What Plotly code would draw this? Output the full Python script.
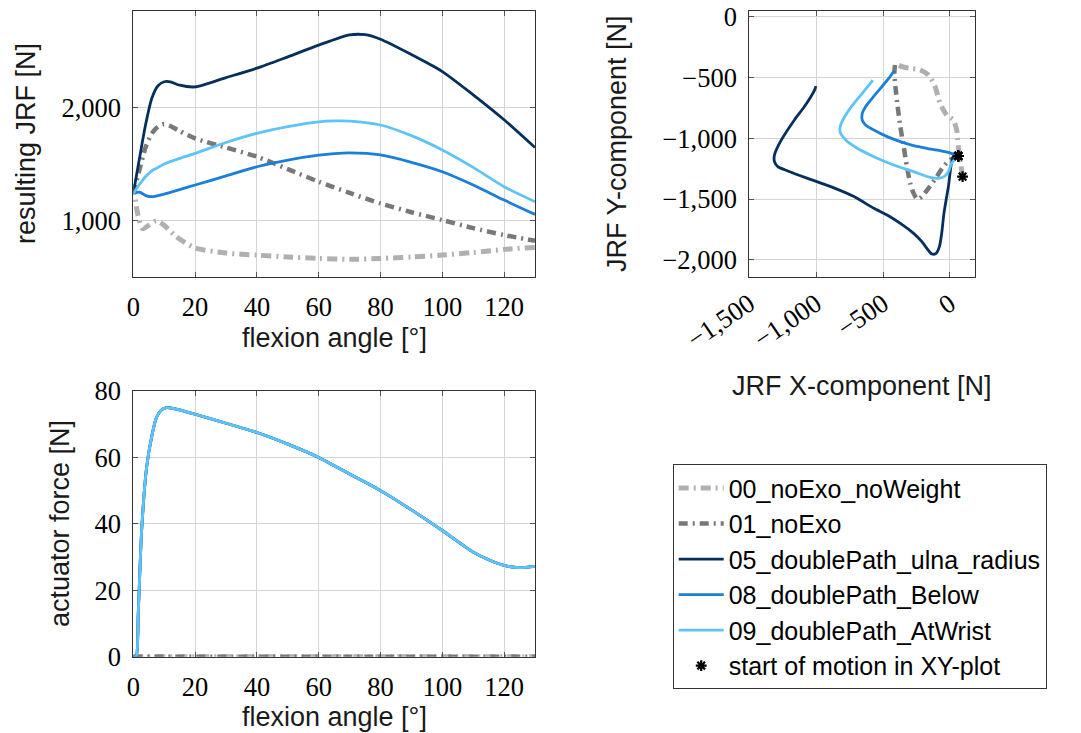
import plotly.graph_objects as go

# ---- data ----
# resulting JRF vs flexion angle (top left)
angle_05 = [0, 2, 4, 6, 8, 10, 12, 15, 20, 30, 40, 50, 60, 70, 75, 80, 90, 100, 110, 120, 130]
jrf_05 = [1240, 1550, 1850, 2080, 2190, 2225, 2225, 2195, 2180, 2262, 2345, 2445, 2548, 2638, 2640, 2600, 2465, 2315, 2110, 1890, 1645]

angle_blue = [0, 2, 4, 6, 8, 10, 15, 20, 30, 40, 50, 60, 65, 70, 80, 90, 100, 110, 120, 130]
jrf_08 = [1240, 1252, 1222, 1212, 1222, 1235, 1275, 1315, 1395, 1476, 1535, 1578, 1592, 1598, 1580, 1515, 1432, 1315, 1182, 1056]
jrf_09 = [1240, 1320, 1390, 1440, 1470, 1500, 1550, 1594, 1690, 1771, 1830, 1872, 1880, 1878, 1844, 1750, 1624, 1470, 1300, 1168]

angle_01 = [0, 2, 4, 6, 8, 10, 12, 15, 20, 30, 40, 50, 60, 70, 80, 90, 100, 110, 120, 130]
jrf_01 = [1240, 1450, 1650, 1770, 1830, 1853, 1835, 1790, 1726, 1645, 1565, 1455, 1344, 1245, 1153, 1075, 1006, 935, 874, 824]

angle_00 = [0, 1.5, 3, 5, 7.5, 10, 13, 16, 20, 30, 40, 50, 60, 70, 80, 90, 100, 110, 120, 130]
jrf_00 = [1320, 1050, 930, 960, 1000, 960, 880, 820, 760, 715, 697, 680, 668, 660, 668, 680, 697, 720, 747, 765]

# JRF X/Y components (top right)
xy_05_x = [62, 25, -12, -45, -62, -79, -104, -136, -173, -210, -272, -371, -470, -569, -718, -891, -1064,
           -1213, -1287, -1312, -1312, -1287, -1238, -1163, -1089, -1040, -1010, -1002]
xy_05_y = [-1145, -1151, -1397, -1616, -1781, -1890, -1945, -1951, -1904, -1849, -1781, -1699, -1630, -1575,
           -1479, -1397, -1329, -1268, -1233, -1192, -1137, -1068, -973, -849, -740, -658, -597, -570]

xy_08_x = [62, 0, -74, -173, -272, -371, -470, -569, -631, -656, -656, -631, -582, -520, -458, -416]
xy_08_y = [-1145, -1120, -1101, -1082, -1060, -1027, -986, -932, -890, -849, -795, -740, -671, -589, -507, -444]

xy_09_x = [62, 12, -12, -45, -87, -148, -272, -421, -569, -693, -779, -822, -817, -780, -718, -656, -606, -577]
xy_09_y = [-1145, -1205, -1274, -1315, -1329, -1321, -1274, -1219, -1151, -1082, -1014, -945, -890, -808,
           -712, -630, -562, -521]

xy_01_x = [62, 0, -50, -99, -161, -210, -243, -272, -297, -322, -346, -371, -391, -408, -416, -411]
xy_01_y = [-1145, -1178, -1233, -1315, -1411, -1479, -1501, -1452, -1370, -1233, -1068, -904, -740, -575, -466, -397]

xy_00_x = [94, 79, 62, 50, 25, -25, -74, -111, -161, -223, -297, -359, -408]
xy_00_y = [-1315, -1205, -1068, -932, -849, -808, -712, -575, -479, -438, -425, -411, -384]

# actuator force vs flexion angle (bottom left)
act_angle = [0, 0.9, 1.6, 2.7, 4.3, 5.9, 7.5, 9, 10.8, 12.9, 15, 20, 30, 40, 50, 60, 70, 80, 90, 100, 110,
             115, 120, 125, 130]
act_force = [0, 0, 13, 38, 57, 66, 72, 74.2, 75, 74.8, 74.3, 73, 70.3, 67.5, 64, 60, 55, 50, 44.2, 38, 31.5,
             29.2, 27.5, 26.8, 27.2]
noexo_angle = [0, 130]
noexo_force = [0, 0]

names = ["00_noExo_noWeight", "01_noExo", "05_doublePath_ulna_radius", "08_doublePath_Below", "09_doublePath_AtWrist"]
colors = ["#b0b0b0", "#787878", "#062f5c", "#1a7fd9", "#5ec4f8"]
widths = [5, 4.5, 2.8, 2.8, 2.8]
dashes = ["10px,5px,2px,5px", "9px,5px,2px,5px", "solid", "solid", "solid"]

W, H = 1081, 733
SANS = "Liberation Sans"
SERIF = "Liberation Serif"


def px_dom(a, b, total):
    return [a / total, b / total]


def py_dom(top, bottom):
    return [1 - bottom / H, 1 - top / H]


fig = go.Figure()

top_left = [(angle_00, jrf_00), (angle_01, jrf_01), (angle_05, jrf_05), (angle_blue, jrf_08), (angle_blue, jrf_09)]
xy = [(xy_00_x, xy_00_y), (xy_01_x, xy_01_y), (xy_05_x, xy_05_y), (xy_08_x, xy_08_y), (xy_09_x, xy_09_y)]
bottom = [(noexo_angle, noexo_force), (noexo_angle, noexo_force), (act_angle, act_force),
          (act_angle, act_force), (act_angle, act_force)]

for i in range(5):
    line = dict(color=colors[i], width=widths[i], dash=dashes[i], shape="spline", smoothing=0.7)
    fig.add_trace(go.Scatter(x=top_left[i][0], y=top_left[i][1], mode="lines", line=line,
                             showlegend=False, xaxis="x", yaxis="y"))
    fig.add_trace(go.Scatter(x=xy[i][0], y=xy[i][1], mode="lines", line=line, name=names[i],
                             showlegend=True, xaxis="x2", yaxis="y2"))
    fig.add_trace(go.Scatter(x=bottom[i][0], y=bottom[i][1], mode="lines", line=line,
                             showlegend=False, xaxis="x3", yaxis="y3"))

# start of motion markers (first point of each XY path)
fig.add_trace(go.Scatter(
    x=[p[0][0] for p in xy], y=[p[1][0] for p in xy], mode="markers", name="start of motion in XY-plot",
    marker=dict(symbol="asterisk", size=9, color="black", line=dict(color="black", width=2.2)),
    xaxis="x2", yaxis="y2"))

axis_common = dict(
    showline=True, linecolor="#333", linewidth=1, mirror="ticks",
    ticks="inside", ticklen=5, tickcolor="#555",
    showgrid=True, gridcolor="#d4d4d4", gridwidth=1, zeroline=False,
    tickfont=dict(family=SERIF, size=26.5, color="black"),
    ticklabelstandoff=6, automargin=False,
)

fig.update_layout(
    width=W, height=H,
    margin=dict(l=0, r=0, t=0, b=0, autoexpand=False),
    paper_bgcolor="white", plot_bgcolor="white",
    xaxis=dict(axis_common, domain=px_dom(133.3, 535, W), range=[0, 130], tickvals=[0, 20, 40, 60, 80, 100, 120],
               anchor="y"),
    yaxis=dict(axis_common, domain=py_dom(11, 277), range=[504, 2849], tickvals=[1000, 2000], tickformat=",",
               anchor="x"),
    xaxis2=dict(axis_common, domain=px_dom(749.3, 975, W), range=[-1500, 187], tickvals=[-1500, -1000, -500, 0],
                tickformat=",", tickangle=-34, anchor="y2", ticklabelstandoff=0),
    yaxis2=dict(axis_common, domain=py_dom(11, 277), range=[-2140, 47], tickvals=[0, -500, -1000, -1500, -2000],
                tickformat=",", anchor="x2"),
    xaxis3=dict(axis_common, domain=px_dom(133.3, 535, W), range=[0, 130], tickvals=[0, 20, 40, 60, 80, 100, 120],
                anchor="y3"),
    yaxis3=dict(axis_common, domain=py_dom(391, 656.7), range=[0, 80], tickvals=[0, 20, 40, 60, 80],
                anchor="x3"),
    legend=dict(x=672.7 / W, y=1 - 464.3 / H, xanchor="left", yanchor="top",
                bordercolor="#333", borderwidth=1, bgcolor="white",
                font=dict(family=SANS, size=25, color="black"), itemwidth=45, tracegroupgap=0),
)

title_font = dict(family=SANS, size=27, color="#1a1a1a")
titles = [
    ("resulting JRF [N]", 26, 144, -90),
    ("flexion angle [°]", 334, 338, 0),
    ("JRF Y-component [N]", 617, 144, -90),
    ("JRF X-component [N]", 862, 386, 0),
    ("actuator force [N]", 60, 523, -90),
    ("flexion angle [°]", 334, 717, 0),
]
for text, x, y, ang in titles:
    fig.add_annotation(text=text, x=x / W, y=1 - y / H, xref="paper", yref="paper", showarrow=False,
                       textangle=ang, font=title_font, xanchor="center", yanchor="middle")

# the page's default body margin would shift the figure by 8px
fig.write_html("out.html", config={"displayModeBar": False},
               post_script="document.body.style.margin = '0px';")
